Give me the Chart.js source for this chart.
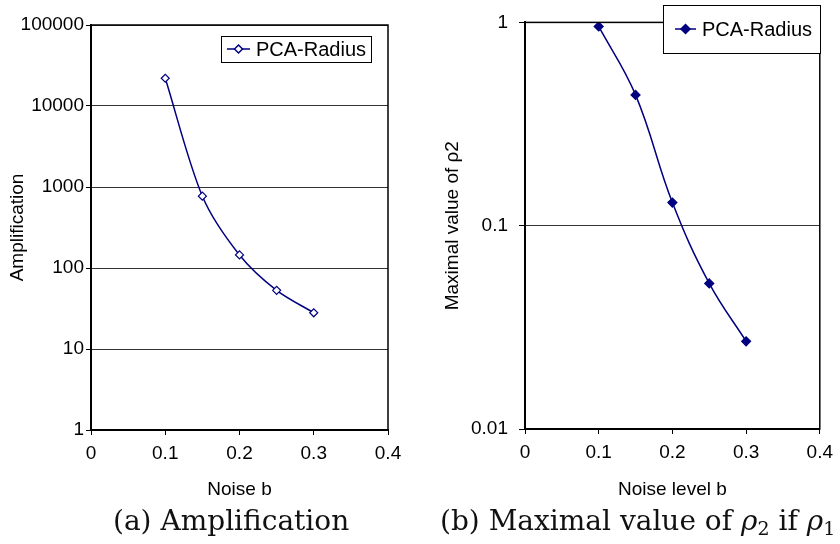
<!DOCTYPE html>
<html lang="en">
<head>
    <meta charset="UTF-8">
    <title>PCA-Radius noise charts</title>
    <script src="https://cdn.jsdelivr.net/npm/chart.js"></script>
    <style>
        body { margin: 0; background: #fff; width: 840px; height: 544px; overflow: hidden; position: relative; }
        canvas { position: absolute; top: 0; }
        #ampChart { left: 0; }
        #rhoChart { left: 420px; }
        .caption {
            position: absolute;
            top: 507px;
            font-family: "DejaVu Serif", serif;
            font-size: 28px;
            line-height: 1;
            white-space: nowrap;
            color: #111;
        }
        .caption sub { font-size: 19px; vertical-align: -5px; }
    </style>
</head>
<body>
    <canvas id="ampChart" width="420" height="505"></canvas>
    <canvas id="rhoChart" width="420" height="505"></canvas>
    <div class="caption" style="left:113px">(a) Amplification</div>
    <div class="caption" style="left:440px">(b) Maximal value of <i>ρ</i><sub>2</sub> if <i>ρ</i><sub>1</sub> = 1</div>

    <script>
        const noiseLevels = [0.1, 0.15, 0.2, 0.25, 0.3];
        const amplification = [22000, 770, 145, 53, 28];
        const maxRho2 = [0.955, 0.44, 0.13, 0.052, 0.027];
        const noiseTicks = [0, 0.1, 0.2, 0.3, 0.4];
        const ampTicks = [1, 10, 100, 1000, 10000, 100000];
        const rhoTicks = [0.01, 0.1, 1];
        const seriesName = 'PCA-Radius';

        const NAVY = '#000080';
        const FONT = '"Liberation Sans", Arial, sans-serif';

        // frame round the plot area + boxed legend like the original
        const framePlugin = {
            id: 'frameAndLegend',
            afterDraw(chart, args, opts) {
                const ctx = chart.ctx;
                const a = chart.chartArea;
                ctx.save();
                ctx.strokeStyle = '#000';
                ctx.lineWidth = 1.5;
                ctx.strokeRect(a.left, a.top, a.right - a.left, a.bottom - a.top);

                const b = opts.box;
                ctx.fillStyle = '#fff';
                ctx.fillRect(b.x, b.y, b.w, b.h);
                ctx.lineWidth = 1;
                ctx.strokeRect(b.x + 0.5, b.y + 0.5, b.w, b.h);
                const cy = b.y + b.h / 2;
                ctx.strokeStyle = NAVY;
                ctx.lineWidth = 1.5;
                ctx.beginPath();
                ctx.moveTo(b.lineX, cy);
                ctx.lineTo(b.lineX + b.lineW, cy);
                ctx.stroke();
                const ds = chart.data.datasets[0];
                ctx.fillStyle = ds.pointBackgroundColor;
                ctx.strokeStyle = NAVY;
                Chart.helpers.drawPoint(ctx, {
                    pointStyle: 'rectRot', radius: ds.pointRadius, borderWidth: 1.2
                }, b.lineX + b.lineW / 2, cy);
                ctx.fillStyle = '#000';
                ctx.font = '20px ' + FONT;
                ctx.textBaseline = 'middle';
                ctx.fillText(ds.label, b.textX, cy + 1);
                ctx.restore();
            }
        };

        function makeChart(id, values, yTicks, yTitle, xTitle, cfg) {
            const points = noiseLevels.map((x, i) => ({ x: x, y: values[i] }));
            return new Chart(document.getElementById(id), {
                type: 'scatter',
                data: {
                    datasets: [{
                        label: seriesName,
                        data: points,
                        showLine: true,
                        tension: cfg.tension,
                        borderColor: NAVY,
                        borderWidth: 1.5,
                        pointStyle: 'rectRot',
                        pointRadius: cfg.pointRadius,
                        pointBackgroundColor: cfg.pointFill,
                        pointBorderColor: NAVY,
                        pointBorderWidth: 1.2
                    }]
                },
                options: {
                    responsive: false,
                    animation: false,
                    layout: { padding: cfg.padding },
                    plugins: {
                        legend: { display: false },
                        tooltip: { enabled: false },
                        frameAndLegend: { box: cfg.legend }
                    },
                    scales: {
                        x: {
                            type: 'linear',
                            min: 0,
                            max: 0.4,
                            afterBuildTicks: s => { s.ticks = noiseTicks.map(v => ({ value: v })); },
                            afterFit: s => { s.height = cfg.xHeight; },
                            grid: { drawOnChartArea: false, tickLength: 5, color: '#000', tickColor: '#000' },
                            border: { display: true, color: '#000', width: 2 },
                            ticks: {
                                color: '#000',
                                font: { family: FONT, size: 19 },
                                padding: 7,
                                maxRotation: 0,
                                callback: v => String(v)
                            },
                            title: {
                                display: true,
                                text: xTitle,
                                color: '#000',
                                font: { family: FONT, size: 19 },
                                padding: { top: 4, bottom: 4 }
                            }
                        },
                        y: {
                            type: 'logarithmic',
                            min: yTicks[0],
                            max: yTicks[yTicks.length - 1],
                            afterBuildTicks: s => { s.ticks = yTicks.map(v => ({ value: v })); },
                            afterFit: s => { s.width = cfg.yWidth; },
                            grid: { color: '#333', lineWidth: 1, tickLength: cfg.yTickLen, tickColor: '#000' },
                            border: { display: true, color: '#000', width: 2 },
                            ticks: {
                                color: '#000',
                                font: { family: FONT, size: 19 },
                                padding: cfg.yTickPad,
                                callback: v => String(v)
                            },
                            title: {
                                display: true,
                                text: yTitle,
                                color: '#000',
                                font: { family: FONT, size: 19 },
                                padding: { top: cfg.yTitlePad, bottom: 4 }
                            }
                        }
                    }
                },
                plugins: [framePlugin]
            });
        }

        makeChart('ampChart', amplification, ampTicks, 'Amplification', 'Noise b', {
            tension: 0.3,
            pointRadius: 4,
            pointFill: '#fff',
            padding: { left: 0, top: 25, right: 32, bottom: 0 },
            xHeight: 75,
            yWidth: 91,
            yTickLen: 5,
            yTickPad: 2,
            yTitlePad: 6,
            legend: { x: 221, y: 36, w: 150, h: 26, lineX: 227, lineW: 23, textX: 256 }
        });

        makeChart('rhoChart', maxRho2, rhoTicks, 'Maximal value of ρ2', 'Noise level b', {
            tension: 0.4,
            pointRadius: 4.5,
            pointFill: NAVY,
            padding: { left: 0, top: 22, right: 11, bottom: 0 },
            xHeight: 76,
            yWidth: 105,
            yTickLen: 6,
            yTickPad: 11,
            yTitlePad: 21,
            legend: { x: 243, y: 5, w: 157, h: 48, lineX: 255, lineW: 21, textX: 282 }
        });
    </script>
</body>
</html>
